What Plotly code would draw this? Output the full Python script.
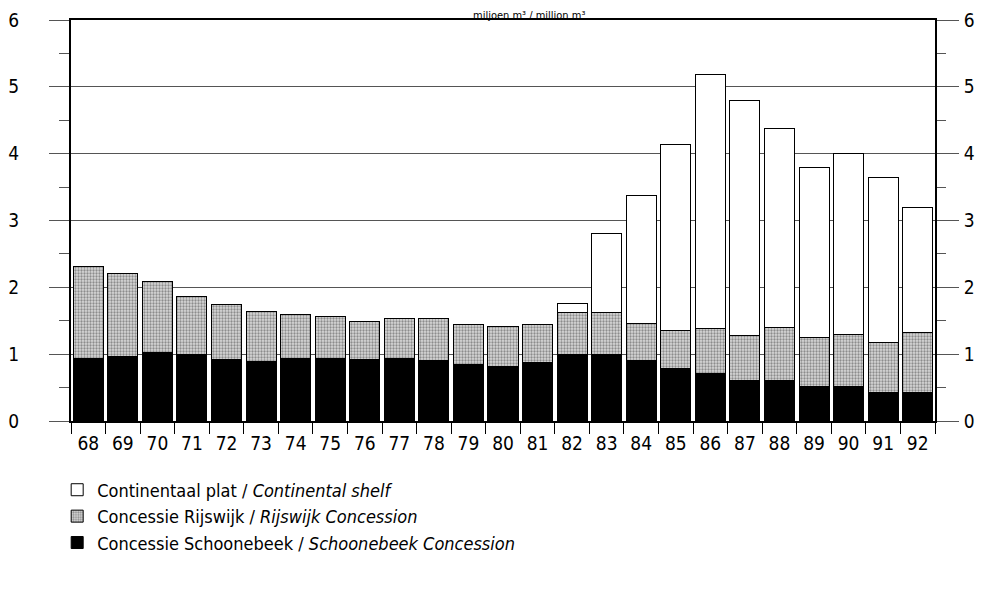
import plotly.graph_objects as go

years = ["68", "69", "70", "71", "72", "73", "74", "75", "76", "77", "78", "79", "80",
         "81", "82", "83", "84", "85", "86", "87", "88", "89", "90", "91", "92"]
schoonebeek = [0.94, 0.97, 1.02, 0.99, 0.92, 0.89, 0.93, 0.93, 0.92, 0.93, 0.90, 0.85, 0.81,
               0.88, 1.00, 0.99, 0.91, 0.78, 0.71, 0.60, 0.61, 0.52, 0.52, 0.42, 0.42]
rijswijk = [1.37, 1.23, 1.07, 0.87, 0.83, 0.75, 0.66, 0.64, 0.57, 0.60, 0.64, 0.60, 0.60,
            0.57, 0.62, 0.64, 0.55, 0.57, 0.67, 0.68, 0.79, 0.73, 0.77, 0.76, 0.90]
continental = [0, 0, 0, 0, 0, 0, 0, 0, 0, 0, 0, 0, 0,
               0, 0.14, 1.17, 1.92, 2.79, 3.80, 3.51, 2.97, 2.54, 2.71, 2.47, 1.87]
y_ticks = [0, 1, 2, 3, 4, 5, 6]

name_schoonebeek = "Concessie Schoonebeek / <i>Schoonebeek Concession</i>"
name_rijswijk = "Concessie Rijswijk / <i>Rijswijk Concession</i>"
name_continental = "Continentaal plat / <i>Continental shelf</i>"
unit_label = "miljoen m³ / million m³"

FONT = "Liberation Sans Narrow, Arial Narrow, DejaVu Sans Condensed, Liberation Sans, sans-serif"

fig = go.Figure()
fig.add_trace(go.Bar(
    x=years, y=schoonebeek, name=name_schoonebeek, legendgroup="s",
    marker=dict(color="#000000", line=dict(color="#000000", width=1)),
))
fig.add_trace(go.Bar(
    x=years, y=rijswijk, name=name_rijswijk, legendgroup="r",
    marker=dict(color="#d0d0d0", line=dict(color="#000000", width=1),
                pattern=dict(shape=".", fgcolor="#8c8c8c", bgcolor="#d8d8d8",
                             size=3, solidity=0.45, fillmode="replace")),
))
fig.add_trace(go.Bar(
    x=years, y=continental, name=name_continental, legendgroup="c",
    marker=dict(color="#ffffff", line=dict(color="#000000", width=1)),
))
fig.add_trace(go.Scatter(x=[years[0]], y=[0], yaxis="y2", mode="lines",
                         line=dict(width=0), showlegend=False, hoverinfo="skip"))

TOP = 12
fig.update_layout(
    width=998, height=593,
    margin=dict(l=63, r=71, t=TOP, b=180),
    paper_bgcolor="white", plot_bgcolor="white",
    barmode="stack", bargap=0.13,
    font=dict(family=FONT, size=17, color="black"),
    showlegend=True,
    legend=dict(x=-0.016, xanchor="left", y=-0.126, yanchor="top",
                traceorder="reversed", font=dict(size=18, family=FONT),
                bgcolor="rgba(0,0,0,0)", tracegroupgap=12, itemwidth=30),
    xaxis=dict(type="category", range=[-0.5, 24.5], tickson="boundaries",
               ticks="outside", ticklen=11, automargin=False,
               tickcolor="#000", tickwidth=1, showline=True, mirror=True,
               linecolor="#000", linewidth=1.5, showgrid=False,
               tickfont=dict(size=19, family=FONT), ticklabelstandoff=4),
    yaxis=dict(range=[0, 6], tickvals=y_ticks, ticks="outside", ticklen=20,
               tickcolor="#555", tickwidth=1, showline=True, linecolor="#000",
               linewidth=2, showgrid=True, gridcolor="#555", gridwidth=1,
               zeroline=False, ticklabelstandoff=26, automargin=False,
               ticklabeloverflow="allow",
               tickfont=dict(size=19, family=FONT),
               minor=dict(dtick=0.5, ticks="outside", ticklen=10,
                          tickcolor="#555", showgrid=False)),
    yaxis2=dict(range=[0, 6], tickvals=y_ticks, overlaying="y", side="right",
                ticks="outside", ticklen=22, tickcolor="#555", tickwidth=1,
                showline=True, linecolor="#000", linewidth=2, showgrid=False,
                zeroline=False, ticklabelstandoff=1, automargin=False,
                ticklabeloverflow="allow",
                tickfont=dict(size=19, family=FONT),
                minor=dict(dtick=0.5, ticks="outside", ticklen=9,
                           tickcolor="#555", showgrid=False)),
    annotations=[dict(text=unit_label, xref="paper", yref="paper", x=0.53, y=1,
                      xanchor="center", yanchor="top", yshift=TOP, borderpad=0,
                      showarrow=False, font=dict(size=11, family=FONT))],
)

fig.write_html("out.html")
